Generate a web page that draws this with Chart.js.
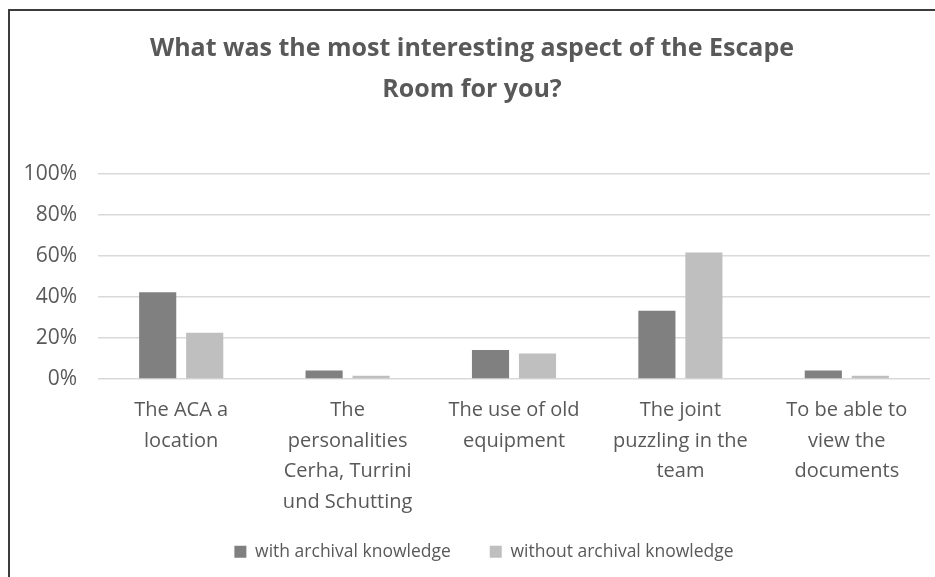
<!DOCTYPE html>
<html>
<head>
<meta charset="utf-8">
<script src="https://cdn.jsdelivr.net/npm/chart.js@4/dist/chart.umd.min.js"></script>
<style>
  html, body { margin: 0; padding: 0; background: #fff; }
  #wrap { width: 935px; height: 577px; position: relative; }
</style>
</head>
<body>
<div id="wrap"><canvas id="chart"></canvas></div>
<script>
// values (percent of respondents)
const categories = [
    ['The ACA a', 'location'],
    ['The', 'personalities', 'Cerha, Turrini', 'und Schutting'],
    ['The use of old', 'equipment'],
    ['The joint', 'puzzling in the', 'team'],
    ['To be able to', 'view the', 'documents']
];
const withKnowledge = [42.3, 4.2, 14.1, 33.3, 4.2];
const withoutKnowledge = [22.6, 1.6, 12.4, 61.7, 1.6];
const yTicks = [0, 20, 40, 60, 80, 100];

const textColor = '#595959';

// frame lines at the top and left of the picture
const framePlugin = {
    id: 'frame',
    afterDraw(chart) {
        const ctx = chart.ctx;
        ctx.save();
        ctx.strokeStyle = '#3c3c3c';
        ctx.lineWidth = 2;
        ctx.beginPath();
        ctx.moveTo(9, 577);
        ctx.lineTo(9, 10);
        ctx.lineTo(935, 10);
        ctx.stroke();
        ctx.restore();
    }
};

// legend padding is also its vertical gap, so lift it a bit after layout
// (keeps the 4-line x labels from being clipped) and nudge it right
const legendLift = {
    id: 'legendLift',
    afterLayout(chart) {
        const lg = chart.legend;
        lg.top -= 10;
        lg.height += 10;
        lg.left += 12;
        lg.right += 12;
    }
};

const ctx = document.getElementById('chart').getContext('2d');
new Chart(ctx, {
    type: 'bar',
    data: {
        labels: categories,
        datasets: [
            {
                label: 'with archival knowledge',
                data: withKnowledge,
                backgroundColor: '#808080',
                categoryPercentage: 0.565,
                barPercentage: 0.79
            },
            {
                label: 'without archival knowledge',
                data: withoutKnowledge,
                backgroundColor: '#bfbfbf',
                categoryPercentage: 0.565,
                barPercentage: 0.79
            }
        ]
    },
    options: {
        responsive: true,
        maintainAspectRatio: false,
        animation: false,
        layout: { padding: { left: 14, right: 5, top: 0, bottom: 8 } },
        plugins: {
            title: {
                display: true,
                text: ['What was the most interesting aspect of the Escape', 'Room for you?'],
                color: textColor,
                font: { family: 'Open Sans', size: 25, weight: 'bold', lineHeight: 1.66 },
                padding: { top: 28, bottom: 63 }
            },
            legend: {
                position: 'bottom',
                maxHeight: 55,
                labels: {
                    color: textColor,
                    font: { family: 'Open Sans', size: 17.5 },
                    boxWidth: 12,
                    boxHeight: 12,
                    padding: 39
                }
            },
            tooltip: { enabled: false }
        },
        scales: {
            x: {
                grid: { display: false },
                border: { display: false },
                ticks: {
                    color: textColor,
                    font: { family: 'Open Sans', size: 20, lineHeight: 1.53 },
                    padding: 8,
                    maxRotation: 0,
                    autoSkip: false
                },
                afterFit(scale) { scale.height = 135; }
            },
            y: {
                min: 0,
                max: 100,
                afterBuildTicks(scale) {
                    scale.ticks = yTicks.map(v => ({ value: v }));
                },
                grid: { color: '#d9d9d9', lineWidth: 1.5, drawTicks: false },
                border: { display: false },
                ticks: {
                    color: textColor,
                    font: { family: 'Open Sans', size: 21 },
                    padding: 21,
                    callback: v => v + '%'
                },
                afterFit(scale) { scale.width = 84; }
            }
        }
    },
    plugins: [framePlugin, legendLift]
});
</script>
</body>
</html>
